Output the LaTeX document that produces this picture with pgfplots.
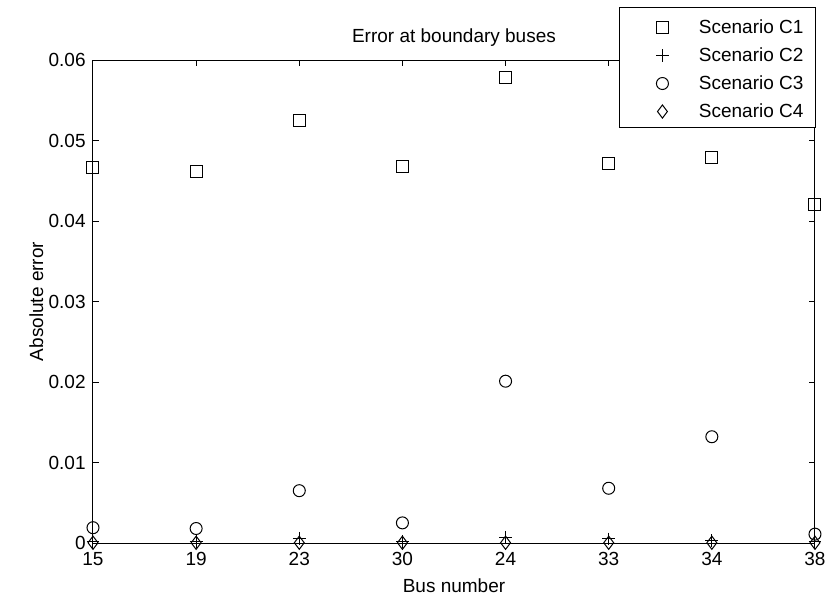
\documentclass[border=0pt]{standalone}
\usepackage{pgfplots}
\pgfplotsset{compat=1.18}
\usepackage{fontspec}
\setmainfont{Liberation Sans}
\begin{document}
\fontsize{9.5}{11}\selectfont
\begin{tikzpicture}[x=1pt,y=1pt]
\useasboundingbox (-46.5,-26.5) rectangle (369.5,271.5);
\begin{axis}[
  at={(0,0)}, anchor=south west,
  scale only axis, width=361pt, height=241.5pt,
  xmin=0, xmax=7, ymin=0, ymax=0.06,
  clip=false,
  scaled y ticks=false,
  xtick={0,1,2,3,4,5,6,7},
  xticklabels={15,19,23,30,24,33,34,38},
  ytick={0,0.01,0.02,0.03,0.04,0.05,0.06},
  yticklabels={0,0.01,0.02,0.03,0.04,0.05,0.06},
  tick align=inside, major tick length=3pt,
  tick style={black, line width=0.5pt},
  axis line style={black, line width=0.5pt},
  xticklabel style={anchor=north, inner sep=0pt, yshift=-4.5pt},
  yticklabel style={anchor=east, inner sep=0pt, xshift=-3.5pt},
  title={Error at boundary buses},
  title style={at={(axis description cs:0.5,1)}, anchor=base, yshift=3pt, inner sep=0pt},
  xlabel={Bus number},
  xlabel style={at={(axis description cs:0.5,0)}, anchor=base, yshift=-24.5pt, inner sep=0pt},
  ylabel={Absolute error},
  ylabel style={at={(axis description cs:-0.06925,0.5)}, anchor=base, rotate=0, inner sep=0pt},
  every axis plot/.append style={black, line width=0.5pt},
  legend style={at={(axis description cs:1.0014,1.1097)}, anchor=north east,
    draw=black, line width=0.5pt, fill=white,
    inner xsep=6pt, inner ysep=2pt, row sep=0pt, column sep=0pt,
    nodes={inner sep=0pt, text height=11pt, text depth=3pt}},
  legend cell align=left,
  legend image code/.code={\path (-15pt,0pt) (18pt,0pt); \draw[#1] plot coordinates {(0pt,-1pt)};},
]
\addplot[only marks, mark=square, mark size=3pt] coordinates {
 (0,0.0467) (1,0.0462) (2,0.0525) (3,0.0468) (4,0.0578) (5,0.0472) (6,0.0479) (7,0.0421)};
\addlegendentry{Scenario C1}
\addplot[only marks, mark=+, mark size=3.2pt] coordinates {
 (0,0.0002) (1,0.0002) (2,0.0006) (3,0.0002) (4,0.0007) (5,0.0005) (6,0.0003) (7,0.0002)};
\addlegendentry{Scenario C2}
\addplot[only marks, mark=o, mark size=3pt] coordinates {
 (0,0.0019) (1,0.0018) (2,0.0065) (3,0.0025) (4,0.0201) (5,0.0068) (6,0.0132) (7,0.0011)};
\addlegendentry{Scenario C3}
\addplot[only marks, mark=diamond, mark size=3.3pt] coordinates {
 (0,0.00003) (1,0.00003) (2,0.00003) (3,0.00003) (4,0.00003) (5,0.00003) (6,0.00003) (7,0.00003)};
\addlegendentry{Scenario C4}
\end{axis}
\end{tikzpicture}
\end{document}
